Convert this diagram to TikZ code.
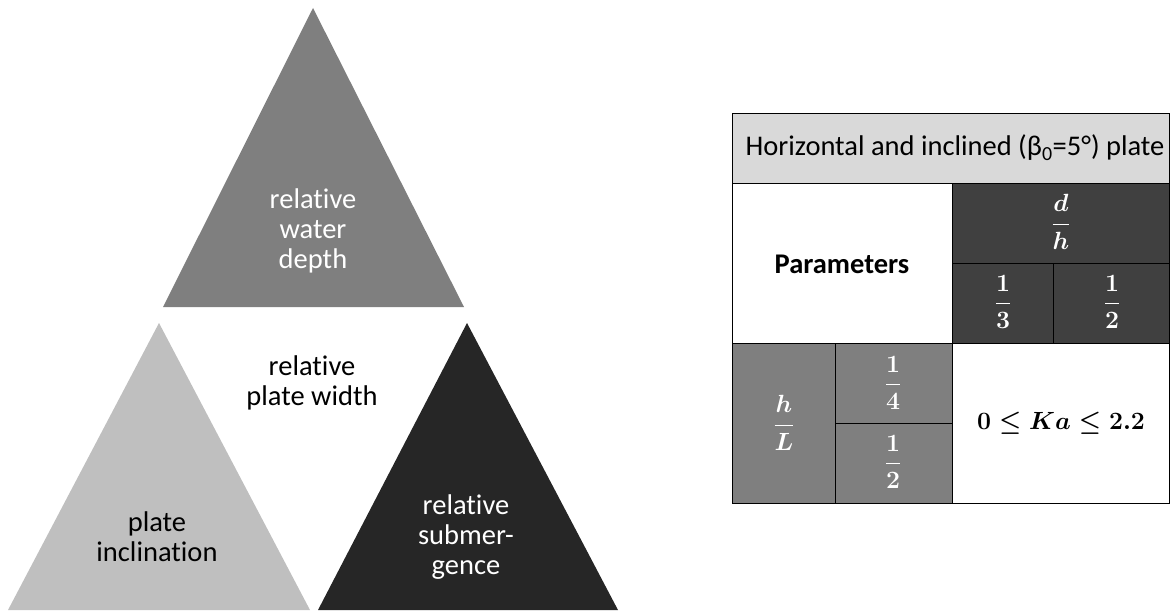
\documentclass[tikz,border=0pt]{standalone}
\usepackage{amsmath}
\usepackage{fontspec}
\setmainfont[Ligatures=NoCommon]{Carlito}
\definecolor{gTop}{HTML}{7F7F7F}
\definecolor{gLeft}{HTML}{BFBFBF}
\definecolor{gRight}{HTML}{262626}
\definecolor{gHead}{HTML}{D9D9D9}
\definecolor{gDark}{HTML}{404040}
\tikzset{
  lbl/.style={align=center,font=\fontsize{28.5}{30}\selectfont},
  cell/.style={draw=black,line width=0.8pt},
  mth/.style={font=\fontsize{27.5}{30}\selectfont\boldmath}
}
\begin{document}
\begin{tikzpicture}[x=1pt,y=-1pt]
        \useasboundingbox (0,0) rectangle (1174,610);
        % triangles
        \fill[gTop] (313,8) -- (464,307) -- (163,307) -- cycle;
        \fill[gLeft] (159,323) -- (310,610) -- (8,610) -- cycle;
        \fill[gRight] (467,323) -- (618,610) -- (318,610) -- cycle;
        \node[lbl,text=white] (depth) at (313,231) {relative\\water\\depth};
        \node[lbl] (width) at (312,383) {relative\\plate width};
        \node[lbl] (incl) at (157,537) {plate\\inclination};
        \node[lbl,text=white] (subm) at (466,537) {relative\\submer-\\gence};
        % table
        \begin{scope}
            \filldraw[cell,fill=gHead] (732,113) rectangle (1169,183);
            \filldraw[cell,fill=white] (732,183) rectangle (952,343);
            \filldraw[cell,fill=gDark] (952,183) rectangle (1169,263);
            \filldraw[cell,fill=gDark] (952,263) rectangle (1053,343);
            \filldraw[cell,fill=gDark] (1053,263) rectangle (1169,343);
            \filldraw[cell,fill=gTop] (732,343) rectangle (835,503);
            \filldraw[cell,fill=gTop] (835,343) rectangle (952,423);
            \filldraw[cell,fill=gTop] (835,423) rectangle (952,503);
            \filldraw[cell,fill=white] (952,343) rectangle (1169,503);
            \node[lbl] (head) at (955,148) {Horizontal and inclined (β\textsubscript{0}=5°) plate};
            \node[lbl,font=\fontsize{28.5}{30}\selectfont\bfseries] (par) at (842,264) {Parameters};
            \node[mth,text=white] (dh) at (1061,222) {$\displaystyle\frac{d}{h}$};
            \node[mth,text=white] (d3) at (1003,302) {$\displaystyle\frac{1}{3}$};
            \node[mth,text=white] (d2) at (1112,302) {$\displaystyle\frac{1}{2}$};
            \node[mth,text=white] (hl) at (784,423) {$\displaystyle\frac{h}{L}$};
            \node[mth,text=white] (h4) at (893,383) {$\displaystyle\frac{1}{4}$};
            \node[mth,text=white] (h2) at (893,462) {$\displaystyle\frac{1}{2}$};
            \node[mth] (ka) at (1061,423) {$0\leq Ka\leq 2.2$};
        \end{scope}
\end{tikzpicture}
\end{document}
